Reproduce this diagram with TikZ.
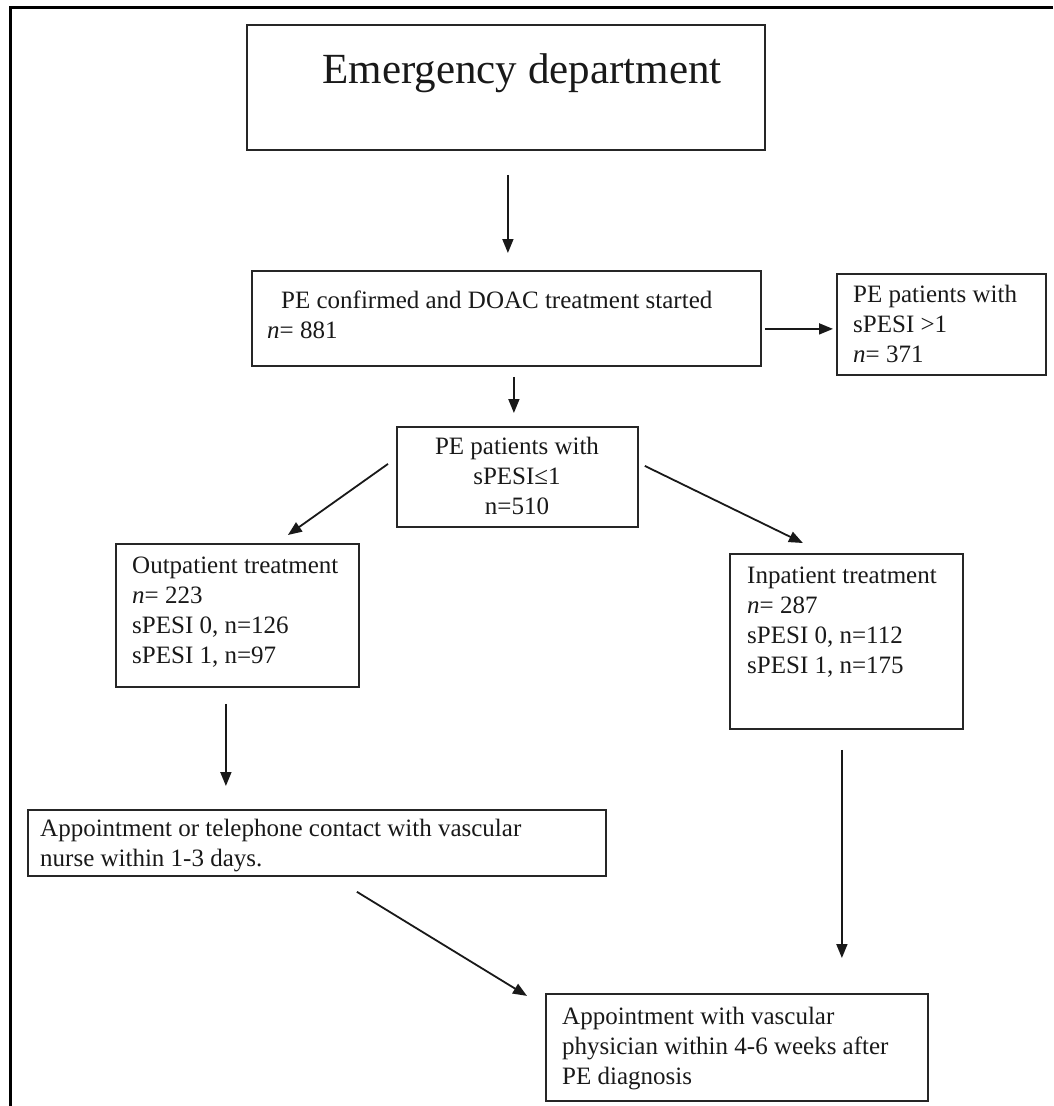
\documentclass[tikz,border=0pt]{standalone}
\usepackage{fontspec}
\setmainfont{Liberation Serif}
\usetikzlibrary{arrows.meta,calc}
\begin{document}
\begin{tikzpicture}[x=1pt,y=-1pt,
  box/.style={draw=black!85, line width=1.8pt, inner sep=0pt, anchor=north west},
  txt/.style={inner sep=0pt, anchor=base west, font=\fontsize{25}{30}\selectfont, text=black!90},
  arr/.style={draw=black!90, line width=1.8pt, -{Triangle[length=14pt,width=11pt]}},
  frameline/.style={line width=3pt}]
\useasboundingbox (0,0) rectangle (1053,1106);
% frame (top and left only)
\draw[frameline] (1053,7) -- (10,7) -- (10,1106);
% boxes
\node[box, minimum width=518pt, minimum height=125pt] (ed) at (246,24) {};
\node[box, minimum width=509pt, minimum height=95pt]  (pe) at (251,270) {};
\node[box, minimum width=209pt, minimum height=101pt] (hi) at (836,273) {};
\node[box, minimum width=241pt, minimum height=100pt] (sp) at (396,426) {};
\node[box, minimum width=243pt, minimum height=143pt] (op) at (115,543) {};
\node[box, minimum width=233pt, minimum height=175pt] (ip) at (729,553) {};
\node[box, minimum width=578pt, minimum height=66pt]  (a1) at (27,809) {};
\node[box, minimum width=382pt, minimum height=107pt] (a2) at (545,993) {};
% texts
\node[inner sep=0pt, anchor=base, font=\fontsize{43}{50}\selectfont, text=black!90] (edt) at (522,83) {Emergency department};
\node[txt] (pet) at (267,308) {\begin{tabular}[t]{@{}l@{}}\hspace{14pt}PE confirmed and DOAC treatment started\\\textit{n}= 881\end{tabular}};
\node[txt] (hit) at (853,302) {\begin{tabular}[t]{@{}l@{}}PE patients with\\sPESI >1\\\textit{n}= 371\end{tabular}};
\node[txt, anchor=base] (spt) at (517,454) {\begin{tabular}[t]{@{}c@{}}PE patients with\\sPESI≤1\\n=510\end{tabular}};
\node[txt] (opt) at (132,573) {\begin{tabular}[t]{@{}l@{}}Outpatient treatment\\\textit{n}= 223\\sPESI 0, n=126\\sPESI 1, n=97\end{tabular}};
\node[txt] (ipt) at (747,583) {\begin{tabular}[t]{@{}l@{}}Inpatient treatment\\\textit{n}= 287\\sPESI 0, n=112\\sPESI 1, n=175\end{tabular}};
\node[txt] (a1t) at (40,836) {\begin{tabular}[t]{@{}l@{}}Appointment or telephone contact with vascular\\nurse within 1-3 days.\end{tabular}};
\node[txt] (a2t) at (562,1024) {\begin{tabular}[t]{@{}l@{}}Appointment with vascular\\physician within 4-6 weeks after\\PE diagnosis\end{tabular}};
% connectors
\draw[arr] ($(ed.south)+(2,24)$) -- ($(pe.north)+(1.5,-17)$);
\draw[arr] ($(pe.south)+(7.5,10)$) -- ($(sp.north)+(-3.5,-13)$);
\draw[arr] ($(pe.east)+(3,10.5)$) -- ($(hi.west)+(-3,4.5)$);
\draw[arr] ($(sp.west)+(-8,-13)$) -- ($(op.north)+(50.5,-8)$);
\draw[arr] ($(sp.east)+(6,-11)$) -- ($(ip.north)+(-43.5,-10)$);
\draw[arr] ($(op.south)+(-11.5,16)$) -- ($(a1.north)+(-91,-23)$);
\draw[arr] ($(ip.south)+(-4.5,20)$) -- ($(a2.north)+(105,-35)$);
\draw[arr] ($(a1.south)+(40,15)$) -- ($(a2.west)+(-18,-51.5)$);
\end{tikzpicture}
\end{document}
